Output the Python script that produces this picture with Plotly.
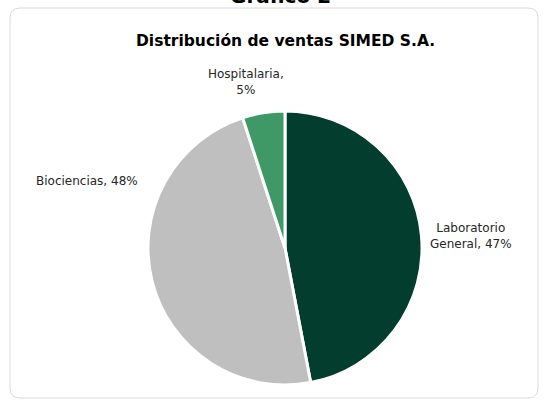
import plotly.graph_objects as go

labels = ["Laboratorio General", "Biociencias", "Hospitalaria"]
values = [47, 48, 5]
label_text = ["Laboratorio<br>General, 47%", "Biociencias, 48%", "Hospitalaria,<br>5%"]
colors = ["#033D2E", "#BFBFBF", "#3F9966"]

W, H = 545, 403
cx, cy, r = 285, 248, 137

fig = go.Figure(go.Pie(
    labels=labels, values=values,
    sort=False, direction="clockwise", rotation=0,
    marker=dict(colors=colors, line=dict(color="white", width=3)),
    textinfo="none",
    hoverinfo="label+percent",
    domain=dict(x=[(cx - r) / W, (cx + r) / W], y=[1 - (cy + r) / H, 1 - (cy - r) / H]),
    showlegend=False,
))

# data label positions (pixels from top-left)
label_pos = [(471, 236), (87, 181), (246, 82)]
for txt, (px, py) in zip(label_text, label_pos):
    fig.add_annotation(text=txt, x=px / W, y=1 - py / H, xref="paper", yref="paper",
                       xanchor="center", yanchor="middle",
                       showarrow=False, align="center",
                       font=dict(family="DejaVu Sans", size=12, color="#262626"))

# rounded border box
x0, x1 = 10 / W, 538 / W
y0, y1 = 1 - 398 / H, 1 - 8 / H
rx, ry = 10 / W, 10 / H
path = (f"M {x0+rx},{y1} L {x1-rx},{y1} Q {x1},{y1} {x1},{y1-ry} "
        f"L {x1},{y0+ry} Q {x1},{y0} {x1-rx},{y0} L {x0+rx},{y0} "
        f"Q {x0},{y0} {x0},{y0+ry} L {x0},{y1-ry} Q {x0},{y1} {x0+rx},{y1} Z")
fig.add_shape(type="path", path=path, xref="paper", yref="paper",
              line=dict(color="#D9D9D9", width=1), layer="below")

fig.add_annotation(text="<b>Distribución de ventas SIMED S.A.</b>", x=cx / W, y=1 - 30 / H,
                   xref="paper", yref="paper", showarrow=False, xanchor="center",
                   font=dict(family="DejaVu Sans", size=15.5, color="#000000"))
fig.add_annotation(text="<b>Gráfico 2</b>", x=280 / W, y=1 - 10 / H,
                   xref="paper", yref="paper", showarrow=False, yanchor="bottom", xanchor="center",
                   font=dict(family="DejaVu Sans", size=20, color="#000000"))

fig.update_layout(width=W, height=H, margin=dict(l=0, r=0, t=0, b=0),
                  paper_bgcolor="white", plot_bgcolor="white")
fig.write_html("out.html", config={"displayModeBar": False},
               post_script="document.body.style.margin='0';document.body.style.padding='0';")
